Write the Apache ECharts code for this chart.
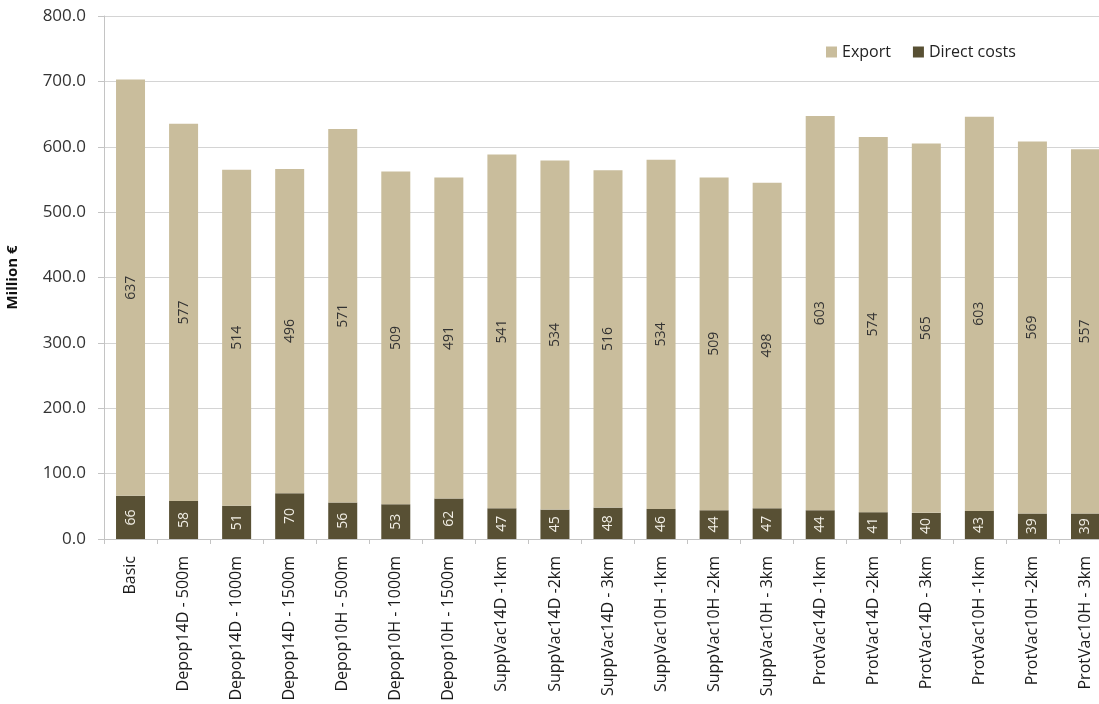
<!DOCTYPE html>
<html>
<head>
<meta charset="utf-8">
<script src="https://cdn.jsdelivr.net/npm/echarts@6/dist/echarts.min.js"></script>
<style>
  html, body { margin: 0; padding: 0; background: #fff; }
  #chart { width: 1099px; height: 704px; }
</style>
</head>
<body>
<div id="chart"></div>
<script>
var categories = [
  'Basic', 'Depop14D - 500m', 'Depop14D - 1000m', 'Depop14D - 1500m',
  'Depop10H - 500m', 'Depop10H - 1000m', 'Depop10H - 1500m',
  'SuppVac14D -1km', 'SuppVac14D -2km', 'SuppVac14D - 3km',
  'SuppVac10H -1km', 'SuppVac10H -2km', 'SuppVac10H - 3km',
  'ProtVac14D -1km', 'ProtVac14D -2km', 'ProtVac14D - 3km',
  'ProtVac10H -1km', 'ProtVac10H -2km', 'ProtVac10H - 3km'
];
var directCosts = [66, 58, 51, 70, 56, 53, 62, 47, 45, 48, 46, 44, 47, 44, 41, 40, 43, 39, 39];
var exportCosts = [637, 577, 514, 496, 571, 509, 491, 541, 534, 516, 534, 509, 498, 603, 574, 565, 603, 569, 557];

var font = 'Open Sans';
var axisGray = '#c4c4c4';

var chart = echarts.init(document.getElementById('chart'), null, { renderer: 'canvas' });

// the plot runs past the right edge in the reference, so no outer bounds clamp
chart.setOption({
  animation: false,
  textStyle: { fontFamily: font },
  legend: {
    top: 39,
    left: 821,
    itemWidth: 11,
    itemHeight: 11,
    itemGap: 22,
    icon: 'rect',
    textStyle: { fontFamily: font, fontSize: 16, color: '#222' },
    data: ['Export', 'Direct costs']
  },
  grid: { left: 104, top: 16, width: 1008, bottom: 165, outerBoundsMode: 'none', containLabel: false },
  xAxis: {
    type: 'category',
    data: categories,
    axisLine: { lineStyle: { color: axisGray } },
    axisTick: { show: true, length: 5, lineStyle: { color: axisGray } },
    axisLabel: { rotate: 90, interval: 0, fontSize: 16, color: '#1a1a1a', margin: 17 }
  },
  yAxis: {
    type: 'value',
    min: 0,
    max: 800,
    interval: 100,
    name: 'Million €',
    nameLocation: 'middle',
    nameGap: 84,
    nameRotate: 90,
    nameTextStyle: { fontSize: 15, fontWeight: 'bold', color: '#111' },
    axisLine: { show: true, lineStyle: { color: axisGray } },
    axisTick: { show: true, length: 6, lineStyle: { color: axisGray } },
    axisLabel: { fontSize: 17, color: '#333', margin: 18, formatter: function(v) { return v.toFixed(1); } },
    splitLine: { lineStyle: { color: '#d4d4d4' } }
  },
  series: [
    {
      name: 'Direct costs',
      type: 'bar',
      stack: 'total',
      barWidth: 29,
      data: directCosts,
      itemStyle: { color: '#585034' },
      label: { show: true, position: 'inside', rotate: 90, fontSize: 14, color: '#f2efe6' }
    },
    {
      name: 'Export',
      type: 'bar',
      stack: 'total',
      barWidth: 29,
      data: exportCosts,
      itemStyle: { color: '#c9bd9c' },
      label: { show: true, position: 'inside', rotate: 90, fontSize: 14, color: '#333' }
    }
  ]
});
</script>
</body>
</html>
